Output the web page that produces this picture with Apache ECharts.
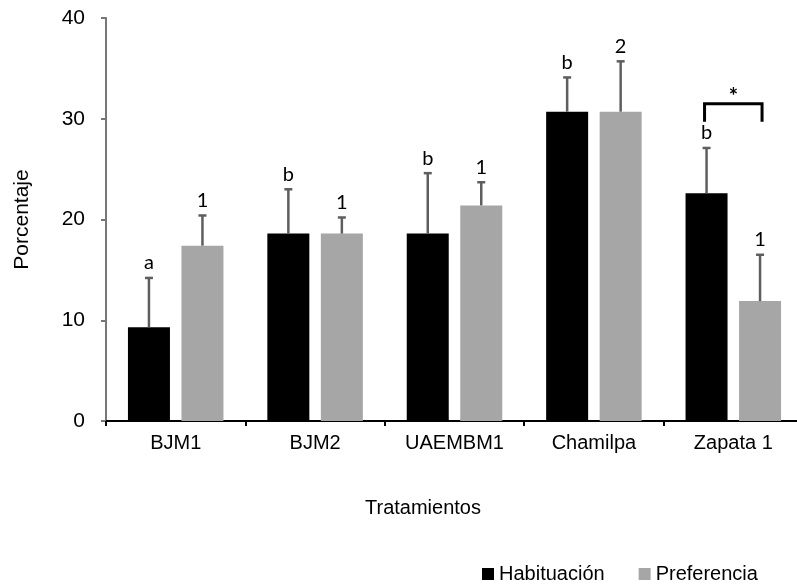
<!DOCTYPE html>
<html>
<head>
<meta charset="utf-8">
<script src="https://cdn.jsdelivr.net/npm/echarts@6/dist/echarts.min.js"></script>
<style>
  html, body { margin: 0; padding: 0; background: #fff; overflow: hidden; }
  #chart { width: 812px; height: 584px; }
</style>
</head>
<body>
<div id="chart"></div>
<script>
// Treatments and group means (%) with their standard deviations
const categories = ['BJM1', 'BJM2', 'UAEMBM1', 'Chamilpa', 'Zapata 1'];
const habituacion = [9.3, 18.6, 18.6, 30.7, 22.6];
const habituacionErr = [4.9, 4.4, 6.0, 3.4, 4.5];
const preferencia = [17.4, 18.6, 21.4, 30.7, 11.9];
const preferenciaErr = [3.0, 1.6, 2.3, 5.0, 4.6];
// Significance letters / numbers shown above each bar
const habituacionLetters = ['a', 'b', 'b', 'b', 'b'];
const preferenciaLetters = ['1', '1', '1', '2', '1'];
// Pairwise comparison bracket: category index, bracket top, bracket leg end
const bracket = [[4, 31.5, 29.7]];
const yTicks = { min: 0, max: 40, interval: 10 };

const BAR_W = 42;
const BAR_GAP_PX = 11.5;
const HALF = (BAR_W + BAR_GAP_PX) / 2;
const ERR_COLOR = '#5e5e5e';
const AXIS_FONT = 'Liberation Sans, Arial, sans-serif';
const MARK_FONT = 'Lato, Open Sans, sans-serif';

function errorSeries(means, errs, letters, shift) {
  return {
    type: 'custom',
    silent: true,
    z: 5,
    data: means.map((m, i) => [i, m, errs[i]]),
    renderItem: function (params, api) {
      const i = api.value(0);
      const base = api.coord([i, api.value(1)]);
      const top = api.coord([i, api.value(1) + api.value(2)]);
      const x = base[0] + shift;
      return {
        type: 'group',
        children: [
          { type: 'line', shape: { x1: x, y1: base[1], x2: x, y2: top[1] },
            style: { stroke: ERR_COLOR, lineWidth: 2.5 } },
          { type: 'line', shape: { x1: x - 4, y1: top[1], x2: x + 4, y2: top[1] },
            style: { stroke: ERR_COLOR, lineWidth: 2.5 } },
          { type: 'text', x: x, y: top[1] - 5,
            style: { text: letters[i], fill: '#000', font: '20px ' + MARK_FONT,
                     align: 'center', verticalAlign: 'bottom' } }
        ]
      };
    }
  };
}

const chart = echarts.init(document.getElementById('chart'));
chart.setOption({
  animation: false,
  backgroundColor: '#ffffff',
  grid: { left: 106, top: 18, bottom: 163, right: 9 },
  graphic: [{
    type: 'text', x: 423, y: 508,
    style: { text: 'Tratamientos', fill: '#000', font: '20px ' + AXIS_FONT,
             align: 'center', verticalAlign: 'middle' }
  }],
  legend: {
    data: ['Habituación', 'Preferencia'],
    left: 477, top: 559,
    itemWidth: 12, itemHeight: 12, itemGap: 34,
    icon: 'rect',
    textStyle: { fontFamily: AXIS_FONT, fontSize: 20, color: '#000' }
  },
  xAxis: {
    type: 'category',
    data: categories,
    axisLine: { lineStyle: { color: '#000', width: 2 } },
    axisTick: { show: true, length: 5, lineStyle: { color: '#000', width: 2 } },
    axisLabel: { margin: 12, fontFamily: AXIS_FONT, fontSize: 20, color: '#000' }
  },
  yAxis: {
    type: 'value',
    min: yTicks.min, max: yTicks.max, interval: yTicks.interval,
    name: 'Porcentaje',
    nameLocation: 'middle',
    nameGap: 73,
    nameTextStyle: { fontFamily: AXIS_FONT, fontSize: 21, color: '#000' },
    axisLine: { show: true, lineStyle: { color: '#777', width: 2 } },
    axisTick: { show: true, length: 5, lineStyle: { color: '#777', width: 2 } },
    splitLine: { show: false },
    axisLabel: { margin: 21, fontFamily: AXIS_FONT, fontSize: 21, color: '#000' }
  },
  series: [
    { name: 'Habituación', type: 'bar', data: habituacion, barWidth: BAR_W,
      barGap: (BAR_GAP_PX / BAR_W * 100).toFixed(1) + '%',
      itemStyle: { color: '#000000' } },
    { name: 'Preferencia', type: 'bar', data: preferencia, barWidth: BAR_W,
      itemStyle: { color: '#a6a6a6' } },
    errorSeries(habituacion, habituacionErr, habituacionLetters, -HALF),
    errorSeries(preferencia, preferenciaErr, preferenciaLetters, HALF),
    {
      type: 'custom',
      silent: true,
      z: 6,
      data: bracket,
      renderItem: function (params, api) {
        const i = api.value(0);
        const topP = api.coord([i, api.value(1)]);
        const legP = api.coord([i, api.value(2)]);
        const xl = topP[0] - HALF - 2;
        const xr = topP[0] + HALF + 2;
        return {
          type: 'group',
          children: [
            { type: 'polyline',
              shape: { points: [[xl, legP[1]], [xl, topP[1]], [xr, topP[1]], [xr, legP[1]]] },
              style: { stroke: '#000', lineWidth: 3, fill: null } },
            { type: 'text', x: topP[0], y: topP[1] - 7,
              style: { text: '*', fill: '#000', font: 'bold 22px ' + MARK_FONT,
                       align: 'center', verticalAlign: 'middle' } }
          ]
        };
      }
    }
  ]
});
</script>
</body>
</html>
